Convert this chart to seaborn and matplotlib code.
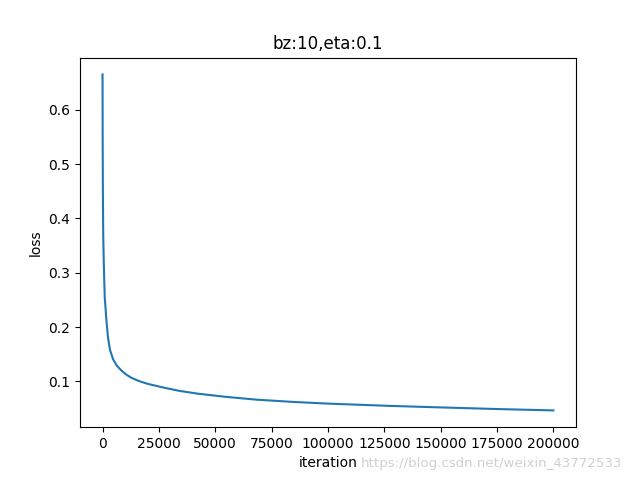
import numpy as np
import pandas as pd
import seaborn as sns
from matplotlib import pyplot as plt

# loss values
iteration = [0, 50, 150, 300, 520, 970, 1700, 2440, 3300, 4650, 6300, 8340,
             10500, 12800, 16000, 20200, 27600, 34000, 42400, 55000, 68500,
             85000, 100000, 127500, 150000, 175000, 200000]
loss = [0.665, 0.55, 0.45, 0.37, 0.323, 0.255, 0.213, 0.18, 0.158, 0.141,
        0.129, 0.12, 0.1125, 0.1065, 0.1008, 0.0952, 0.088, 0.0825, 0.0772,
        0.0713, 0.0662, 0.062, 0.059, 0.0548, 0.052, 0.049, 0.0465]


def main():
    df = pd.DataFrame({"iteration": iteration, "loss": loss})
    fig, ax = plt.subplots(figsize=(6.4, 4.8), dpi=100)
    sns.lineplot(data=df, x="iteration", y="loss", ax=ax, color="#1f77b4")
    ax.set_title("bz:10,eta:0.1")
    ax.set_xlabel("iteration")
    ax.set_ylabel("loss")
    # csdn watermark
    fig.text(0.563, 0.027, "https://blog.csdn.net/weixin_43772533",
             color="#d0d0d0", fontsize=9.6)
    plt.savefig("out.png")


if __name__ == '__main__':
    main()
